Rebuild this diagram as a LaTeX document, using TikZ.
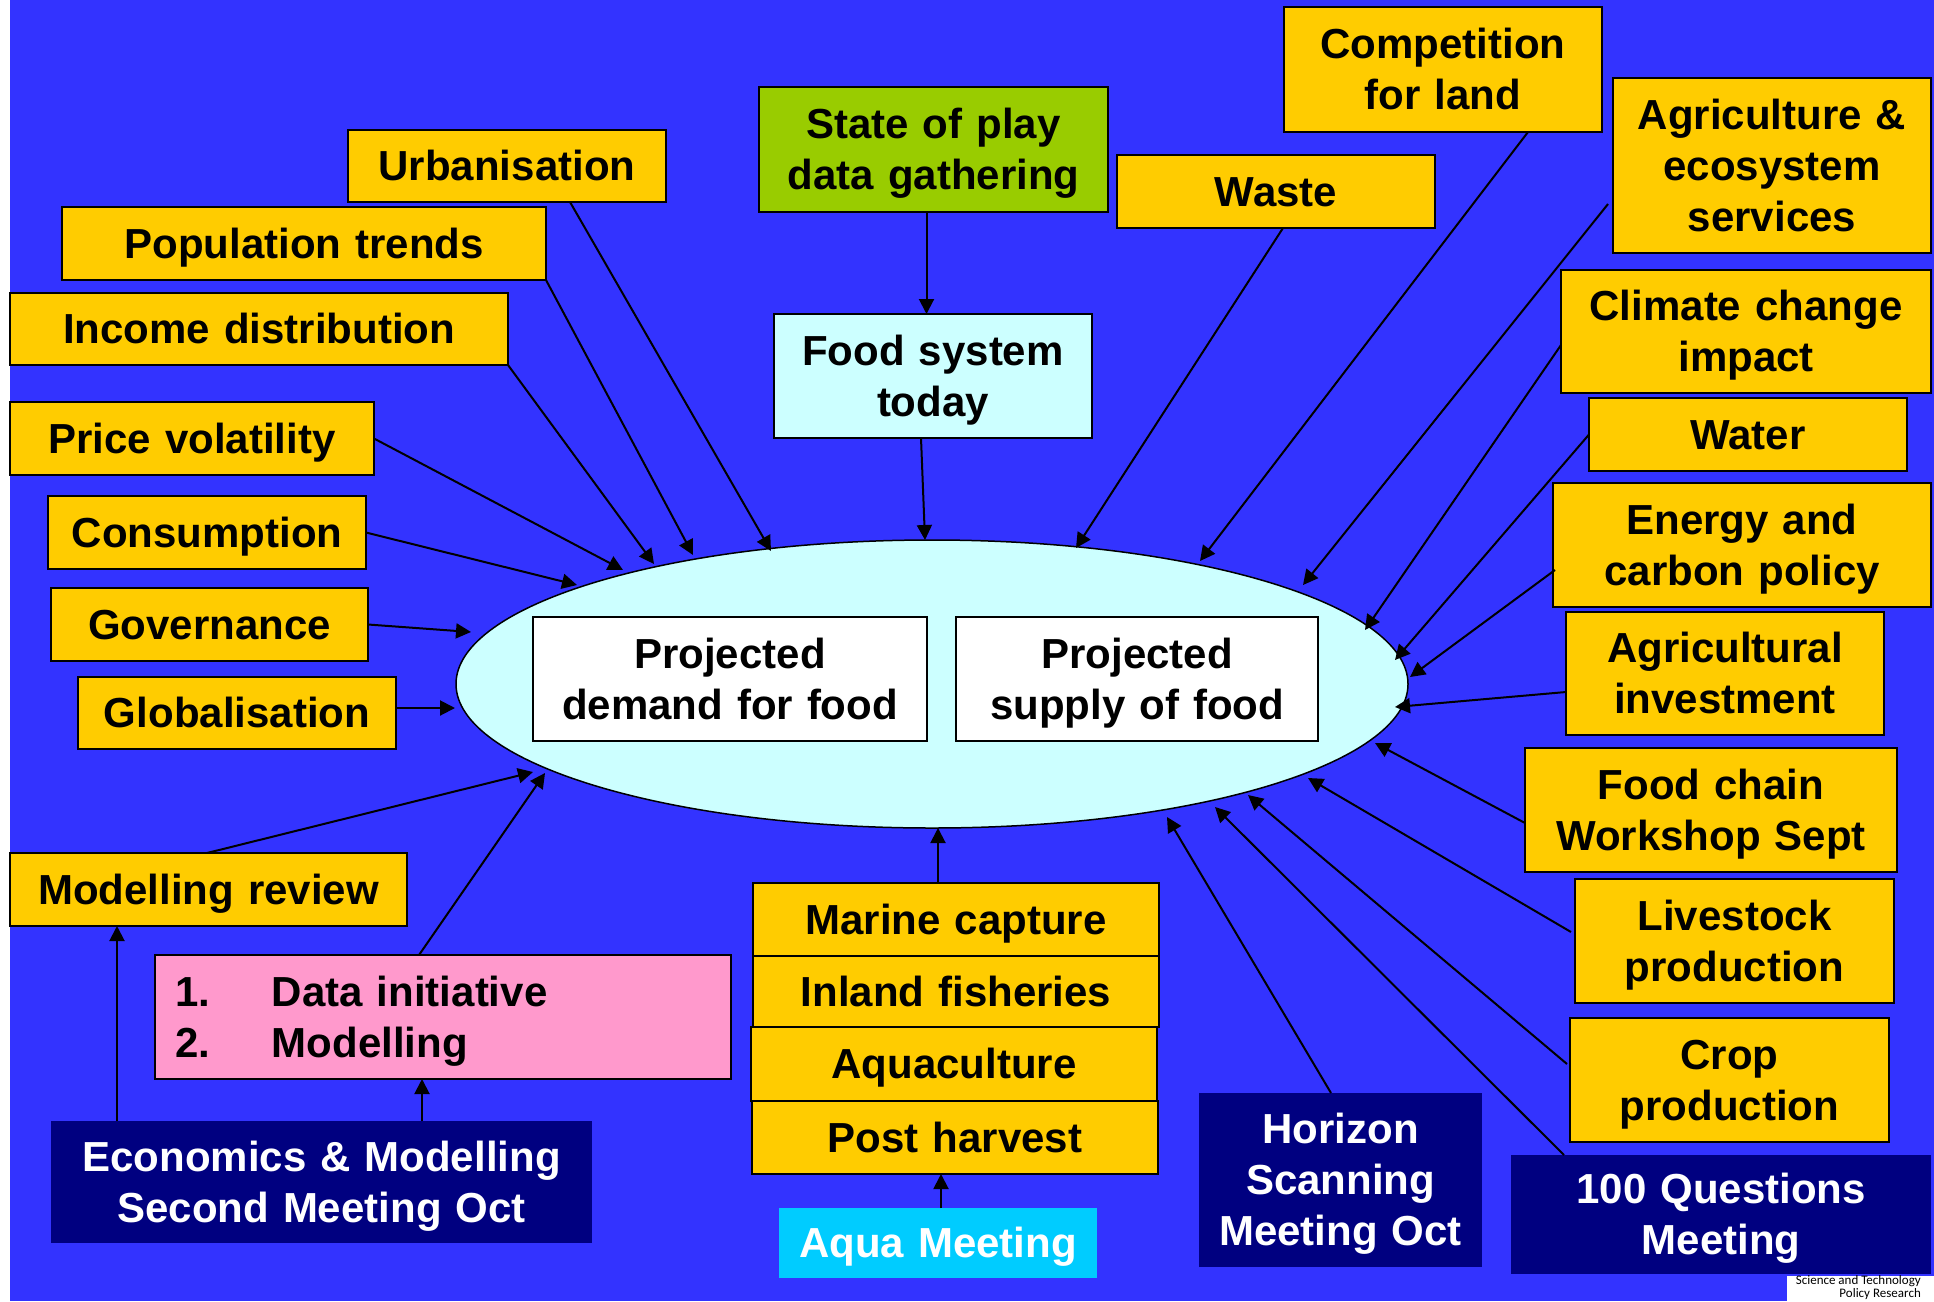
\documentclass[tikz,border=0pt]{standalone}
\usepackage{fontspec}
\setmainfont{Liberation Sans}
\newfontfamily\credfont{Carlito}
\usetikzlibrary{shapes.geometric,arrows.meta,calc}
\definecolor{bgblue}{HTML}{3333FF}
\definecolor{yel}{HTML}{FFCC00}
\definecolor{grn}{HTML}{99CC00}
\definecolor{lcyan}{HTML}{CCFFFF}
\definecolor{pinkc}{HTML}{FF99CC}
\definecolor{navyc}{HTML}{000080}
\definecolor{aquac}{HTML}{00CCFF}
\newcommand\linestrut{\rule[-11pt]{0pt}{51pt}}
\newcommand\mybox[7]{\pgfmathsetmacro\bw{#5-#3}\node[#1, text width=\bw pt, minimum width={#5pt-#3pt}, minimum height={#6pt-#4pt}] (#2) at (#3,#4) {\linestrut#7\linestrut};}
\begin{document}
\begin{tikzpicture}[x=1pt,y=-1pt,
  base/.style={inner sep=0pt, outer sep=0pt, align=center, anchor=north west,
    font=\fontsize{42}{51}\selectfont\bfseries},
  ybox/.style={base, draw=black, line width=1.8pt, fill=yel},
  gbox/.style={base, draw=black, line width=1.8pt, fill=grn},
  cbox/.style={base, draw=black, line width=1.8pt, fill=lcyan},
  wbox/.style={base, draw=black, line width=1.8pt, fill=white},
  nbox/.style={base, fill=navyc, text=white},
  abox/.style={base, fill=aquac, text=white},
  arr/.style={draw=black, line width=2pt, -{Triangle[length=15pt,width=15pt]}}]
\useasboundingbox (0,0) rectangle (1934,1301);
\fill[white] (0,0) rectangle (1934,1301);
\fill[bgblue] (10,0) rectangle (1934,1301);
% ellipse
\node[ellipse, draw=black, line width=1.5pt, fill=lcyan, minimum width=952pt, minimum height=288pt, inner sep=0pt, outer sep=0pt] (ell) at (932,684) {};
\mybox{wbox}{demand}{533}{617}{927}{741}{Projected\\demand for food}
\mybox{wbox}{supply}{956}{617}{1318}{741}{Projected\\supply of food}
% left boxes
\mybox{ybox}{urb}{348}{130}{666}{202}{Urbanisation}
\mybox{ybox}{pop}{62}{207}{546}{280}{Population trends}
\mybox{ybox}{inc}{10}{293}{508}{365}{Income distribution}
\mybox{ybox}{price}{10}{402}{374}{475}{Price volatility}
\mybox{ybox}{cons}{48}{496}{366}{569}{Consumption}
\mybox{ybox}{gov}{51}{588}{368}{661}{Governance}
\mybox{ybox}{glob}{78}{677}{396}{749}{Globalisation}
\mybox{ybox}{modrev}{10}{853}{407}{926}{Modelling review}
\node[base, draw=black, line width=1.8pt, fill=pinkc, align=left, text width=536pt, inner xsep=20pt, minimum height=124pt] (pink) at (155,955)
  {\linestrut\makebox[97pt][l]{1.}Data initiative\\\makebox[97pt][l]{2.}Modelling\linestrut};
\mybox{nbox}{econ}{51}{1121}{592}{1243}{Economics \& Modelling\\Second Meeting Oct}
% centre boxes
\mybox{gbox}{state}{759}{87}{1108}{212}{State of play\\data gathering}
\mybox{cbox}{today}{774}{314}{1092}{438}{Food system\\today}
\mybox{ybox}{waste}{1117}{155}{1435}{228}{Waste}
\mybox{ybox}{marine}{753}{883}{1159}{956}{Marine capture}
\mybox{ybox}{inland}{753}{956}{1159}{1027}{Inland fisheries}
\mybox{ybox}{aquacul}{751}{1027}{1157}{1101}{Aquaculture}
\mybox{ybox}{post}{752}{1101}{1158}{1174}{Post harvest}
\mybox{abox}{aquam}{779}{1208}{1097}{1278}{Aqua Meeting}
\mybox{nbox}{horizon}{1199}{1093}{1482}{1267}{Horizon\\Scanning\\Meeting Oct}
\mybox{nbox}{qhundred}{1511}{1155}{1931}{1274}{100 Questions\\Meeting}
% right boxes
\mybox{ybox}{comp}{1284}{7}{1602}{132}{Competition\\for land}
\mybox{ybox}{agri}{1613}{78}{1931}{253}{Agriculture \&\\ecosystem\\services}
\mybox{ybox}{clim}{1561}{270}{1931}{393}{Climate change\\impact}
\mybox{ybox}{water}{1589}{398}{1907}{471}{Water}
\mybox{ybox}{energy}{1553}{483}{1931}{607}{Energy and\\carbon policy}
\mybox{ybox}{invest}{1566}{612}{1884}{735}{Agricultural\\investment}
\mybox{ybox}{chain}{1525}{748}{1897}{872}{Food chain\\Workshop Sept}
\mybox{ybox}{live}{1575}{879}{1894}{1003}{Livestock\\production}
\mybox{ybox}{crop}{1570}{1018}{1889}{1142}{Crop\\production}
% credit
\fill[white] (1787,1276) rectangle (1934,1301);
\node[anchor=north east, inner sep=0pt, align=right, font=\credfont\fontsize{13}{12.5}\selectfont] (cred) at (1921,1275.5) {Science and Technology\\Policy Research};
% arrows left
\draw[arr] ($(urb.south west)+(222,0)$) -- ($(ell.center)+(-161,-133)$);
\draw[arr] (pop.south east) -- ($(ell.center)+(-239,-129)$);
\draw[arr] (inc.south east) -- ($(ell.center)+(-278,-120)$);
\draw[arr] (price.east) -- ($(ell.center)+(-309,-114)$);
\draw[arr] (cons.east) -- ($(ell.center)+(-355,-99)$);
\draw[arr] (gov.east) -- ($(ell.center)+(-461,-52)$);
\draw[arr] ($(glob.east)+(0,-5)$) -- ($(ell.center)+(-477,24)$);
\draw[arr] ($(modrev.north west)+(197,0)$) -- ($(ell.center)+(-399,88)$);
\draw[arr] ($(pink.north west)+(264,0)$) -- ($(ell.center)+(-387,89)$);
% arrows right
\draw[arr] ($(waste.south west)+(166,0)$) -- ($(ell.center)+(144,-136)$);
\draw[arr] ($(comp.south west)+(244,0)$) -- ($(ell.center)+(268,-123)$);
\draw[arr] ($(agri.west)+(-5,38.5)$) -- ($(ell.center)+(371,-99)$);
\draw[arr] ($(clim.west)+(0,13.5)$) -- ($(ell.center)+(433,-54)$);
\draw[arr] (water.west) -- ($(ell.center)+(463,-24)$);
\draw[arr] ($(energy.west)+(2,25)$) -- ($(ell.center)+(478,-7)$);
\draw[arr] ($(invest.west)+(0,18.5)$) -- ($(ell.center)+(463,23)$);
\draw[arr] ($(chain.west)+(0,13)$) -- ($(ell.center)+(443,59)$);
\draw[arr] ($(live.west)+(-4,-9)$) -- ($(ell.center)+(376,94)$);
\draw[arr] ($(crop.west)+(-3,-16)$) -- ($(ell.center)+(316,111)$);
\draw[arr] ($(qhundred.north west)+(53,0)$) -- ($(ell.center)+(283,123)$);
\draw[arr] ($(horizon.north west)+(132,0)$) -- ($(ell.center)+(235,133)$);
% vertical arrows
\coordinate (s1) at ($(state.south)+(-7,0)$);
\draw[arr] (s1) -- (s1 |- today.north);
\draw[arr] ($(today.south)+(-12,0)$) -- ($(ell.center)+(-7,-144)$);
\coordinate (m1) at ($(marine.north)+(-18,0)$);
\draw[arr] (m1) -- (m1 |- ell.south);
\coordinate (a1) at ($(aquam.north)+(3,0)$);
\draw[arr] (a1) -- (a1 |- post.south);
\coordinate (e1) at ($(econ.north west)+(66,0)$);
\draw[arr] (e1) -- (e1 |- modrev.south);
\coordinate (e2) at ($(econ.north west)+(371,0)$);
\draw[arr] (e2) -- (e2 |- pink.south);
\end{tikzpicture}
\end{document}
